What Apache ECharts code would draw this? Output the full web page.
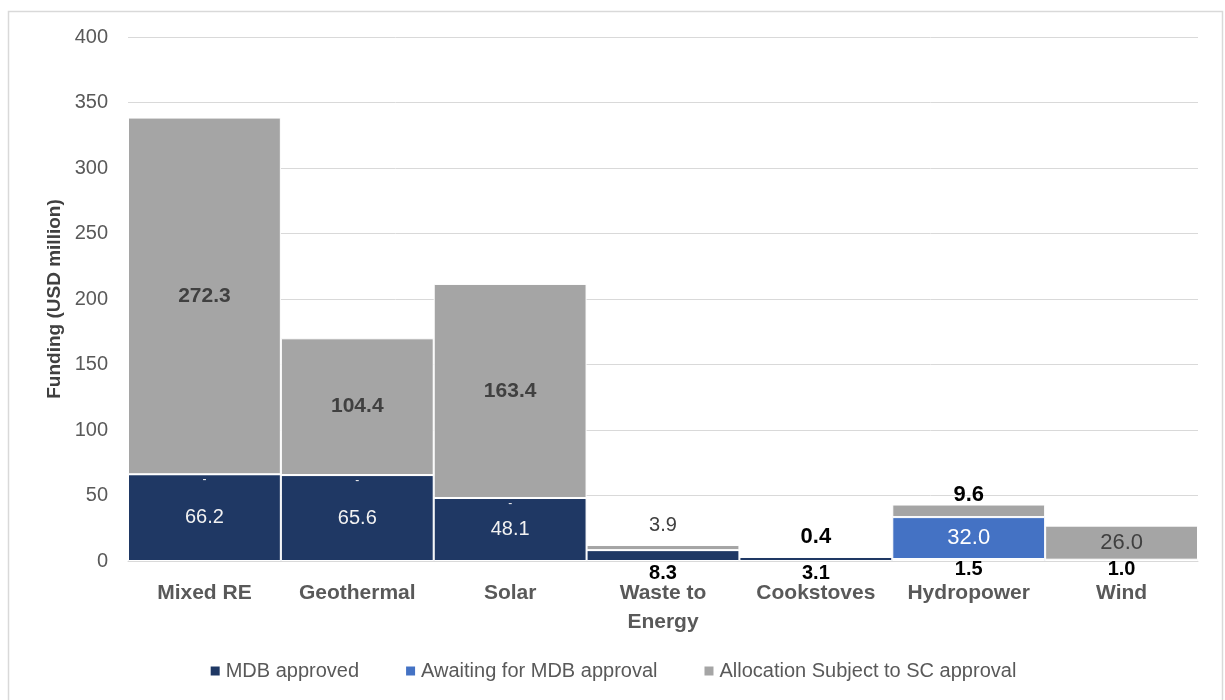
<!DOCTYPE html>
<html>
<head>
<meta charset="utf-8">
<script src="https://cdn.jsdelivr.net/npm/echarts@6/dist/echarts.min.js"></script>
<style>
  html, body { margin: 0; padding: 0; background: #fff; }
  #chart { width: 1225px; height: 700px; }
</style>
</head>
<body>
<div id="chart"></div>
<script>
// Funding by technology (USD million)
const categories = ['Mixed RE', 'Geothermal', 'Solar', 'Waste to\nEnergy', 'Cookstoves', 'Hydropower', 'Wind'];
const mdbApproved = [66.2, 65.6, 48.1, 8.3, 3.1, 1.5, 1.0];
const awaitingApproval = [0, 0, 0, 0, 0, 32.0, 0];
const allocationSC = [272.3, 104.4, 163.4, 3.9, 0.4, 9.6, 26.0];
const yTicks = { min: 0, max: 400, interval: 50 };

const FONT = '"Liberation Sans", Arial, sans-serif';
const boldBlack = { fontWeight: 'bold', color: '#000000', fontSize: 20 };

// Per-bar label settings for each stack layer
const mdbLabels = [
  { position: 'inside', color: '#f2f2f2', fontSize: 20 },
  { position: 'inside', color: '#f2f2f2', fontSize: 20 },
  { position: 'inside', color: '#f2f2f2', fontSize: 20 },
  Object.assign({ position: 'bottom', distance: 2 }, boldBlack),
  Object.assign({ position: 'bottom', distance: 2 }, boldBlack),
  Object.assign({ position: 'bottom', distance: -2 }, boldBlack),
  Object.assign({ position: 'bottom', distance: -2 }, boldBlack)
];
const awaitingLabels = [
  { show: true, position: 'insideTop', distance: 0, color: '#f2f2f2', fontSize: 12, formatter: '-' },
  { show: true, position: 'insideTop', distance: 0, color: '#f2f2f2', fontSize: 12, formatter: '-' },
  { show: true, position: 'insideTop', distance: 0, color: '#f2f2f2', fontSize: 12, formatter: '-' },
  { show: false },
  { show: false },
  { show: true, position: 'inside', color: '#ffffff', fontSize: 22 },
  { show: false }
];
const allocLabels = [
  { position: 'inside', color: '#404040', fontWeight: 'bold', fontSize: 21 },
  { position: 'inside', color: '#404040', fontWeight: 'bold', fontSize: 21 },
  { position: 'inside', color: '#404040', fontWeight: 'bold', fontSize: 21 },
  { position: 'top', distance: 10, color: '#404040', fontSize: 20 },
  { position: 'top', distance: 8, color: '#000000', fontWeight: 'bold', fontSize: 22 },
  { position: 'top', distance: -1, color: '#000000', fontWeight: 'bold', fontSize: 22 },
  { position: 'inside', color: '#404040', fontSize: 22 }
];

function withLabels(values, labels) {
  return values.map((v, i) => ({
    value: v,
    label: Object.assign({ show: true, formatter: p => p.value.toFixed(1) }, labels[i])
  }));
}

const chart = echarts.init(document.getElementById('chart'));
chart.setOption({
  animation: false,
  textStyle: { fontFamily: FONT },
  graphic: [{
    type: 'rect',
    shape: { x: 8.5, y: 11.5, width: 1214, height: 700 },
    style: { fill: 'none', stroke: '#d9d9d9', lineWidth: 1.5 },
    silent: true
  }],
  grid: { left: 128, right: 27, top: 37, bottom: 139 },
  legend: {
    bottom: 14,
    left: 'center',
    itemWidth: 11,
    itemHeight: 11,
    itemGap: 45,
    icon: 'rect',
    textStyle: { color: '#595959', fontSize: 20, fontFamily: FONT },
    data: ['MDB approved', 'Awaiting for MDB approval', 'Allocation Subject to SC approval']
  },
  xAxis: {
    type: 'category',
    data: categories,
    axisLine: { lineStyle: { color: '#d9d9d9' } },
    axisTick: { show: false },
    axisLabel: {
      color: '#595959', fontWeight: 'bold', fontSize: 21, margin: 18,
      lineHeight: 29, interval: 0, fontFamily: FONT
    }
  },
  yAxis: {
    type: 'value',
    min: yTicks.min,
    max: yTicks.max,
    interval: yTicks.interval,
    name: 'Funding (USD million)',
    nameLocation: 'middle',
    nameGap: 64,
    nameMoveOverlap: false,
    nameTextStyle: { color: '#404040', fontWeight: 'bold', fontSize: 19, fontFamily: FONT },
    axisLine: { show: false },
    axisTick: { show: false },
    axisLabel: { color: '#595959', fontSize: 20, margin: 20, fontFamily: FONT },
    splitLine: { lineStyle: { color: '#d9d9d9', width: 1 } }
  },
  series: [
    {
      name: 'MDB approved', type: 'bar', stack: 'total',
      barCategoryGap: '0%',
      itemStyle: { color: '#1f3864', borderColor: '#ffffff', borderWidth: 1 },
      data: withLabels(mdbApproved, mdbLabels)
    },
    {
      name: 'Awaiting for MDB approval', type: 'bar', stack: 'total',
      itemStyle: { color: '#4472c4', borderColor: '#ffffff', borderWidth: 1 },
      data: withLabels(awaitingApproval, awaitingLabels)
    },
    {
      name: 'Allocation Subject to SC approval', type: 'bar', stack: 'total',
      itemStyle: { color: '#a5a5a5', borderColor: '#ffffff', borderWidth: 1 },
      data: withLabels(allocationSC, allocLabels)
    }
  ]
});
</script>
</body>
</html>
